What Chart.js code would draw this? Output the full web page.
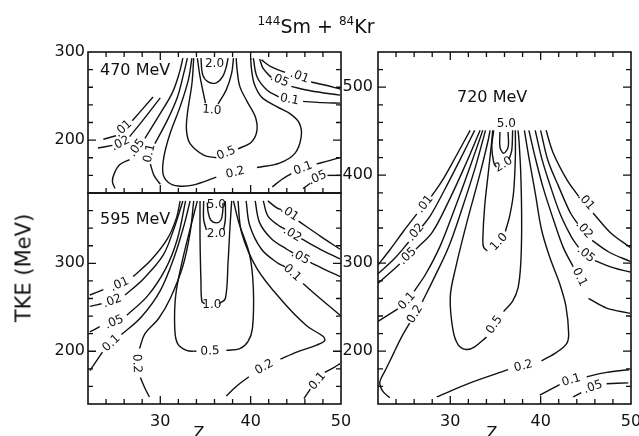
<!DOCTYPE html>
<html>
<head>
<meta charset="utf-8">
<script src="https://cdn.jsdelivr.net/npm/chart.js@4.4.1/dist/chart.umd.min.js"></script>
<style>
body { margin: 0; background: #fff; }
#wrap { position: relative; width: 639px; height: 436px; overflow: hidden; font-family: 'DejaVu Sans', sans-serif; color: #111; }
canvas { position: absolute; left: 0; top: 0; }
.t { position: absolute; white-space: nowrap; line-height: 1; }
.sup { font-size: 12px; position: relative; top: -8px; }
</style>
</head>
<body>
<div id="wrap">
  <canvas id="c470" width="639" height="436"></canvas>
  <canvas id="c595" width="639" height="436"></canvas>
  <canvas id="c720" width="639" height="436"></canvas>

  <div class="t" style="left:0;width:632px;text-align:center;top:17px;font-size:19px"><span class="sup">144</span>Sm + <span class="sup">84</span>Kr</div>
  <div class="t" style="left:24px;top:268px;font-size:21px;transform:translate(-50%,-50%) rotate(-90deg)">TKE (MeV)</div>
  <div class="t" style="left:100px;top:62px;font-size:16px">470 MeV</div>
  <div class="t" style="left:100px;top:211px;font-size:16px">595 MeV</div>
  <div class="t" style="left:457px;top:89px;font-size:16px">720 MeV</div>
  <div class="t" style="left:199px;top:425px;font-size:16px;transform:translateX(-50%)">Z</div>
  <div class="t" style="left:492px;top:425px;font-size:16px;transform:translateX(-50%)">Z</div>
</div>

<script>
const ink = '#111';

// axes
const zMin = 22, zMax = 50;
const tke470 = [140, 300];
const tke595 = [140, 380];
const tke720 = [140, 540];

// contours: [label, label Z, label TKE, run before the label (Z,TKE pairs), run after the label]
const c470 = [
  ['.01', 25.9, 213, [23.7,201, 25.1,205], [26.9,222, 29.2,249]],
  ['.02', 25.6, 196, [23.1,191, 24.7,194], [26.6,204, 27.8,219, 30.0,248]],
  ['.05', 27.4, 191, [32.5,293, 32.1,276, 31.3,253, 29.8,227, 28.3,202], [26.6,178, 25.5,172, 24.9,162, 24.7,153, 25.0,145]],
  ['0.1', 28.8, 185, [33.0,293, 32.6,276, 31.9,249, 30.8,223, 29.4,196], [28.9,173, 29.3,160, 30.0,150]],
  ['0.2', 38.3, 163, [33.5,293, 33.1,268, 32.2,238, 31.1,208, 30.4,181, 30.3,162, 30.9,152, 32.0,148, 33.6,149, 36.2,158],
                     [40.7,169, 43.2,174, 44.9,185, 45.6,204, 45.4,219, 44.5,229, 42.9,238, 41.2,249, 40.4,264, 40.1,280, 40.0,293]],
  ['0.5', 37.3, 185, [33.7,293, 33.5,264, 33.0,230, 32.9,211, 33.3,196, 34.8,183, 36.2,180],
                     [38.6,190, 40.1,198, 40.7,211, 40.5,227, 39.6,244, 38.8,261, 38.5,280, 38.4,293]],
  ['1.0', 35.7, 234, [34.1,293, 34.4,272, 35.0,242], [36.4,241, 37.3,257, 37.9,276, 38.1,293]],
  ['2.0', 36.0, 286, [34.5,293, 34.7,274, 35.3,266, 36.2,265, 36.9,272, 37.3,283, 37.5,293], []],
  ['0.1', 44.3, 246, [40.3,293, 40.7,272, 41.8,257, 43.1,249], [45.8,244, 48.0,242.5, 49.9,242]],
  ['.05', 43.2, 268, [41.0,292, 41.4,281, 42.3,271], [44.5,261, 46.6,256, 49.9,251]],
  ['.01', 45.4, 272, [41.2,291, 42.3,283, 43.8,277], [46.7,266, 48.2,262.5, 49.9,258]],
  ['0.1', 45.8, 168, [42.4,147, 43.4,155, 44.5,162], [47.3,173, 48.8,177, 49.8,180]],
  ['.05', 47.4, 157, [45.8,145, 46.6,151], [48.5,160, 49.9,160]]
];

const c595 = [
  ['.01', 25.5, 276, [22.2,264, 23.7,270], [27.0,285, 29.0,304, 30.8,328, 31.8,352, 32.2,371]],
  ['.02', 24.7, 257, [22.2,251, 23.5,254], [26.1,264, 28.1,282, 30.3,309, 31.5,339, 32.5,371]],
  ['.05', 24.9, 233, [22.2,222, 23.3,228], [26.3,241, 28.6,263, 30.6,294, 31.9,328, 32.8,371]],
  ['0.1', 24.6, 209, [22.2,178, 23.0,190, 23.6,199], [25.7,219, 27.9,239, 30.0,269, 31.6,309, 32.7,346, 33.3,371]],
  ['0.2', 27.4, 186, [33.7,371, 33.3,335, 32.5,297, 31.1,260, 29.8,237, 28.3,220, 27.7,203], [27.8,170, 28.3,158, 28.8,148]],
  ['0.5', 35.5, 200, [34.1,371, 33.3,339, 32.4,301, 31.7,263, 31.6,226, 31.9,209, 32.9,201, 34.0,200],
                     [37.3,201, 38.8,203, 39.7,211, 40.2,226, 40.3,271, 39.9,309, 38.7,346, 38.1,371]],
  ['1.0', 35.7, 253, [34.4,371, 34.4,328, 34.5,279, 34.6,257, 34.9,254], [36.5,254, 37.2,260, 37.5,301, 37.7,339, 37.9,371]],
  ['2.0', 36.2, 334, [34.8,371, 34.8,350, 35.1,338], [37.0,338, 37.2,350, 37.2,371]],
  ['5.0', 36.2, 367, [35.2,369, 35.3,358, 35.6,349, 36.2,346, 36.7,349, 36.9,358, 36.95,369], []],
  ['0.2', 41.5, 182, [38.6,371, 39.0,335, 40.7,294, 43.6,256, 46.2,229, 48.0,217, 48.2,212, 47.3,207, 45.1,199, 43.3,191],
                     [39.8,171, 38.4,160, 37.3,149]],
  ['0.1', 44.6, 289, [39.5,371, 39.9,343, 41.2,316, 42.9,301, 43.8,296], [45.8,277, 47.7,260, 49.9,241]],
  ['.05', 45.5, 307, [40.5,371, 41.0,346, 42.3,328, 44.0,316, 44.7,312], [46.6,301, 48.4,292, 49.9,285]],
  ['.02', 44.6, 333, [41.4,371, 41.9,354, 43.1,343, 43.8,339], [45.6,328, 47.7,316, 49.9,305]],
  ['.01', 44.3, 357, [41.9,371, 42.9,363, 43.4,361], [45.3,348, 47.7,331, 49.9,316]],
  ['0.1', 47.4, 166, [45.9,146, 46.6,157], [48.2,176, 49.3,182, 49.9,186]]
];

const c720 = [
  ['.01', 27.2, 367, [32.2,451, 30.6,421, 29.0,392, 27.9,376], [26.3,356, 24.8,336, 23.3,315, 22.0,298]],
  ['.02', 26.2, 335, [32.7,451, 31.0,416, 29.3,382, 27.8,354, 26.9,342], [25.4,324, 23.8,305, 22.0,288]],
  ['.05', 25.3, 308, [33.3,451, 31.6,410, 29.8,370, 28.0,335, 26.2,316], [24.4,299, 23.2,288, 22.0,277]],
  ['0.1', 25.2, 257, [33.6,451, 32.2,410, 30.6,365, 28.9,320, 27.3,288, 26.0,268], [24.2,248, 22.0,234]],
  ['0.2', 26.1, 242, [33.9,451, 32.8,410, 31.4,365, 29.8,318, 28.2,283, 26.9,256],
                     [25.5,232, 24.5,214, 23.7,197, 22.8,178, 22.2,165, 22.5,155, 23.3,147]],
  ['0.5', 34.9, 230, [34.4,451, 34.2,440, 33.3,402, 31.8,345, 30.6,295, 30.0,262, 30.3,224, 30.9,207, 31.8,202, 32.7,205, 34.0,216],
                     [35.9,245, 36.9,257, 37.5,272, 37.8,300, 37.9,345, 37.8,402, 37.6,440, 37.5,451]],
  ['1.0', 35.4, 324, [34.7,451, 34.6,440, 34.2,402, 33.8,364, 33.6,326, 33.7,318, 34.1,314],
                     [36.1,336, 36.6,355, 37.0,380, 37.2,420, 37.2,451]],
  ['2.0', 35.9, 412, [34.8,451, 34.6,432, 34.8,415, 35.1,409], [36.5,418, 36.8,428, 36.9,451]],
  ['5.0', 36.2, 458, [35.5,449, 35.5,432, 35.9,425, 36.4,432, 36.4,449], []],
  ['0.2', 38.1, 183, [38.2,451, 38.7,420, 39.4,380, 40.1,338, 41.0,307, 42.1,277, 42.8,251, 43.1,220, 42.9,209, 41.8,199, 40.1,189],
                     [36.4,179, 32.2,164, 28.5,148]],
  ['0.1', 44.3, 284, [38.7,451, 39.4,420, 40.3,385, 41.4,350, 42.5,318, 43.6,296], [45.3,260, 47.3,249, 49.9,243]],
  ['.05', 45.0, 310, [39.4,451, 40.1,420, 41.0,390, 42.2,355, 43.4,330, 44.2,318], [46.0,303, 48.0,295, 49.9,290]],
  ['.02', 44.8, 338, [40.0,451, 40.8,417, 42.0,387, 43.3,357, 44.1,345], [45.7,326, 47.5,313, 49.9,302]],
  ['.01', 45.0, 370, [40.6,451, 41.4,425, 42.9,395, 44.2,376], [45.8,357, 47.7,335, 49.9,318]],
  ['0.1', 43.4, 167, [39.9,150, 42.1,162], [45.1,171, 47.3,176, 49.8,179]],
  ['.05', 45.8, 159, [43.6,148, 44.5,153], [47.3,163, 49.7,164]]
];

const tickFont = { family: 'DejaVu Sans', size: 16 };

function pairs(a) {
    const out = [];
    for (let i = 0; i < a.length; i += 2) out.push({ x: a[i], y: a[i + 1] });
    return out;
}

function makeSets(list) {
    const sets = [];
    for (let c of list) {
        for (let run of [c[3], c[4]]) {
            if (!run.length) continue;
            sets.push({
                data: pairs(run),
                showLine: true,
                borderColor: ink,
                borderWidth: 1.4,
                pointRadius: 0,
                tension: 0.35,
                fill: false
            });
        }
    }
    return sets;
}

// label text sits in the gap, turned along the contour
function labelPlugin(list) {
    return {
        id: 'contourLabels',
        afterDatasetsDraw(chart) {
            const { ctx, scales: { x, y } } = chart;
            ctx.save();
            ctx.fillStyle = ink;
            ctx.font = '12px "DejaVu Sans"';
            ctx.textAlign = 'center';
            ctx.textBaseline = 'middle';
            for (let c of list) {
                const a = c[3], b = c[4];
                let ang = 0;
                if (b.length) {
                    const dx = x.getPixelForValue(b[0]) - x.getPixelForValue(a[a.length - 2]);
                    const dy = y.getPixelForValue(b[1]) - y.getPixelForValue(a[a.length - 1]);
                    ang = Math.atan2(dy, dx);
                    if (ang > Math.PI / 2) ang -= Math.PI;
                    if (ang < -Math.PI / 2) ang += Math.PI;
                }
                ctx.save();
                ctx.translate(x.getPixelForValue(c[1]), y.getPixelForValue(c[2]));
                ctx.rotate(ang);
                ctx.fillText(c[0], 0, 0);
                ctx.restore();
            }
            ctx.restore();
        }
    };
}

// box with inward ticks, sides = 'tblr'
function framePlugin(sides) {
    return {
        id: 'frame',
        afterDraw(chart) {
            const { ctx, chartArea: a, scales: { x, y } } = chart;
            ctx.save();
            ctx.strokeStyle = ink;
            ctx.lineWidth = 1.6;
            ctx.strokeRect(a.left, a.top, a.right - a.left, a.bottom - a.top);
            ctx.lineWidth = 1.3;
            ctx.beginPath();
            for (let t of x.ticks) {
                const p = x.getPixelForValue(t.value);
                if (p < a.left + 2 || p > a.right - 2) continue;
                const len = t.value % 10 === 0 ? 8 : 5;
                if (sides.includes('b')) { ctx.moveTo(p, a.bottom); ctx.lineTo(p, a.bottom - len); }
                if (sides.includes('t')) { ctx.moveTo(p, a.top); ctx.lineTo(p, a.top + len); }
            }
            for (let t of y.ticks) {
                const p = y.getPixelForValue(t.value);
                if (p < a.top + 2 || p > a.bottom - 2) continue;
                const len = t.value % 100 === 0 ? 8 : 5;
                if (sides.includes('l')) { ctx.moveTo(a.left, p); ctx.lineTo(a.left + len, p); }
                if (sides.includes('r')) { ctx.moveTo(a.right, p); ctx.lineTo(a.right - len, p); }
            }
            ctx.stroke();
            ctx.restore();
        }
    };
}

// area = [left, top, right, bottom] of the plot box in pixels
function panel(id, list, tke, area, xLabels, yPad, sides) {
    return new Chart(document.getElementById(id), { // eslint-disable-line
        type: 'scatter',
        data: { datasets: makeSets(list) },
        options: {
            responsive: false,
            animation: false,
            devicePixelRatio: 1,
            layout: { padding: { left: 0, top: area[1], right: 639 - area[2], bottom: 0 } },
            plugins: { legend: { display: false }, tooltip: { enabled: false } },
            scales: {
                x: {
                    type: 'linear',
                    min: zMin,
                    max: zMax,
                    grid: { display: false, drawTicks: false },
                    border: { display: false },
                    ticks: {
                        display: xLabels,
                        stepSize: 2,
                        autoSkip: false,
                        maxRotation: 0,
                        padding: 8,
                        color: ink,
                        font: tickFont,
                        callback: v => (v % 10 === 0 ? v : '')
                    },
                    afterFit: s => { s.height = 436 - area[3]; s.paddingLeft = 0; s.paddingRight = 0; }
                },
                y: {
                    type: 'linear',
                    min: tke[0],
                    max: tke[1],
                    grid: { display: false, drawTicks: false },
                    border: { display: false },
                    ticks: {
                        stepSize: 20,
                        autoSkip: false,
                        padding: yPad,
                        color: ink,
                        font: tickFont,
                        callback: v => (v % 100 === 0 ? v : '')
                    },
                    afterFit: s => { s.width = area[0]; s.paddingTop = 0; s.paddingBottom = 0; }
                }
            }
        },
        plugins: [framePlugin(sides), labelPlugin(list)]
    });
}

panel('c470', c470, tke470, [88, 52, 341, 193], false, 3, 'tblr');
panel('c595', c595, tke595, [88, 193, 341, 404], true, 3, 'blr');
panel('c720', c720, tke720, [378, 52, 631, 404], true, 5, 'tblr');
</script>
</body>
</html>
